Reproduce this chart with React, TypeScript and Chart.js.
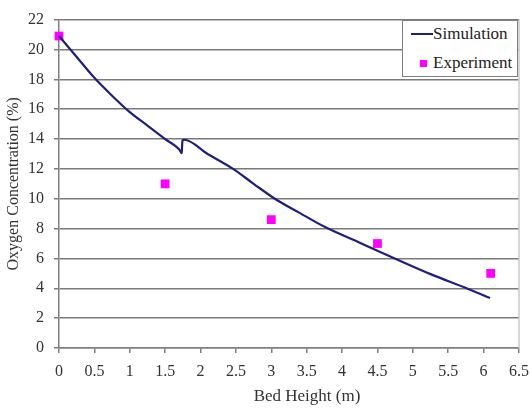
import React, { useEffect, useRef } from "react";
import { Chart, registerables } from "chart.js";

Chart.register(...registerables);

const simX = [0, 0.25, 0.5, 0.75, 1.0, 1.25, 1.5, 1.7, 1.735, 1.74, 1.745, 1.77, 2.1, 2.46, 2.75, 3.05, 3.4, 3.76, 4.25, 4.72, 5.25, 5.76, 6.09];
const simY = [20.9, 19.5, 18.1, 16.9, 15.8, 14.9, 14.0, 13.3, 13.05, 13.6, 13.9, 13.95, 13.0, 12.0, 11.0, 10.0, 9.05, 8.1, 7.05, 6.05, 4.95, 4.0, 3.35];

const expX = [0, 1.5, 3, 4.5, 6.1];
const expY = [20.9, 11.0, 8.6, 7.0, 5.0];

const xTitle = "Bed Height (m)";
const yTitle = "Oxygen Concentration (%)";
const seriesNames = ["Simulation", "Experiment"];

const FONT = "'Liberation Serif', 'Times New Roman', serif";
const LINE_COLOR = "#1f1f7a";
const MARK_COLOR = "#ff00ff";

export default function App() {
  const ref = useRef<HTMLCanvasElement | null>(null);

  useEffect(() => {
    if (!ref.current) return;
    const frame = {
      id: "frameRight",
      afterDraw(chart: any) {
        const { ctx, chartArea } = chart;
        ctx.save();
        ctx.strokeStyle = "#c8c8c8";
        ctx.lineWidth = 1.5;
        ctx.beginPath();
        ctx.moveTo(chartArea.right, chartArea.top);
        ctx.lineTo(chartArea.right, chartArea.bottom);
        ctx.stroke();
        ctx.restore();
      },
    };
    const chart = new Chart(ref.current, {
      type: "scatter",
      data: {
        datasets: [
          {
            label: seriesNames[0],
            data: simX.map((x, i) => ({ x, y: simY[i] })),
            showLine: true,
            borderColor: LINE_COLOR,
            borderWidth: 2.2,
            pointRadius: 0,
            cubicInterpolationMode: "monotone",
            clip: false,
          },
          {
            label: seriesNames[1],
            data: expX.map((x, i) => ({ x, y: expY[i] })),
            showLine: false,
            pointStyle: "rect",
            pointRadius: 6.2,
            backgroundColor: MARK_COLOR,
            borderWidth: 0,
            clip: false,
          },
        ],
      },
      options: {
        responsive: false,
        animation: false,
        layout: { padding: { top: 17, right: 2, left: 0, bottom: 0 } },
        plugins: {
          legend: { display: false },
          tooltip: { enabled: false },
        },
        scales: {
          x: {
            type: "linear",
            min: 0,
            max: 6.5,
            ticks: {
              stepSize: 0.5,
              color: "#333",
              font: { family: FONT, size: 16 },
              padding: 9,
              callback: (v: any) => String(Number(v)),
            },
            grid: { drawOnChartArea: false, drawTicks: true, tickLength: 5, color: "#808080", lineWidth: 1.5 },
            border: { color: "#808080", width: 1.5 },
            title: { display: false },
            afterFit: (s: any) => { s.height = 63; s.paddingRight = 12; },
          },
          y: {
            type: "linear",
            min: 0,
            max: 22,
            ticks: { stepSize: 2, color: "#333", font: { family: FONT, size: 16 }, padding: 10 },
            grid: { color: "#7a7a7a", lineWidth: 1.5, tickLength: 5 },
            border: { color: "#808080", width: 1.5 },
            title: { display: true, text: yTitle, color: "#333", font: { family: FONT, size: 16 }, padding: { bottom: 2 } },
            afterFit: (s: any) => { s.width = 59; },
          },
        },
      },
      plugins: [frame],
    });
    return () => chart.destroy();
  }, []);

  return (
    <div style={{ position: "absolute", left: 0, top: 0, width: 531, height: 411, background: "#fff" }}>
      <canvas ref={ref} width={531} height={411} style={{ display: "block" }} />
      <div
        style={{
          position: "absolute",
          left: 207,
          width: 200,
          top: 386,
          textAlign: "center",
          fontFamily: FONT,
          fontSize: 17,
          lineHeight: "20px",
          color: "#333",
        }}
      >
        {xTitle}
      </div>
      <div
        style={{
          position: "absolute",
          left: 402,
          top: 20,
          width: 114,
          height: 55,
          border: "1.5px solid #808080",
          background: "#fff",
          fontFamily: FONT,
          fontSize: 17,
          color: "#222",
        }}
      >
        <div style={{ position: "absolute", left: 8, top: 12, width: 22, height: 2, background: LINE_COLOR }} />
        <div style={{ position: "absolute", left: 30, top: 3, lineHeight: "20px" }}>{seriesNames[0]}</div>
        <div style={{ position: "absolute", left: 17, top: 39, width: 7, height: 7, background: MARK_COLOR }} />
        <div style={{ position: "absolute", left: 30, top: 32, lineHeight: "20px" }}>{seriesNames[1]}</div>
      </div>
    </div>
  );
}
